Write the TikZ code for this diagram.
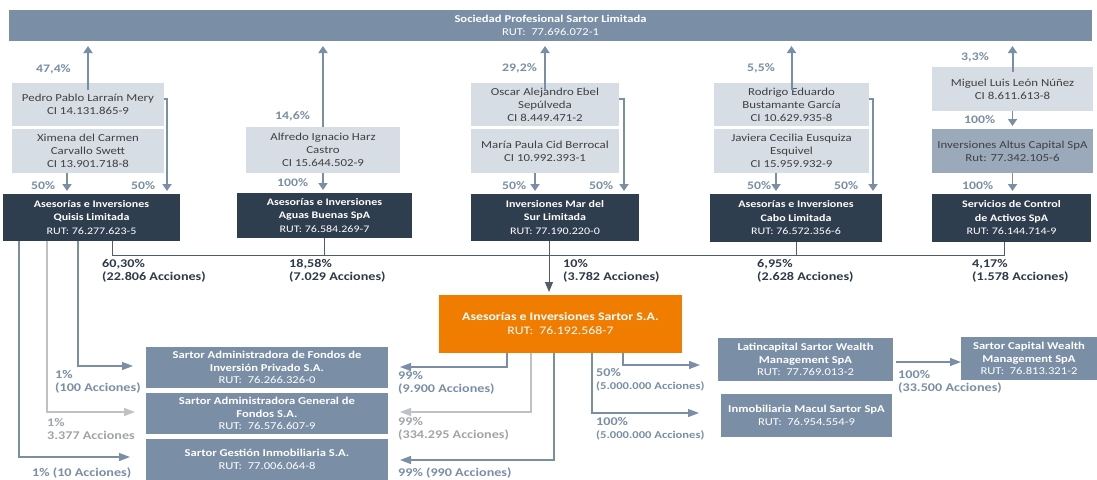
\documentclass[tikz,border=0pt]{standalone}
\usepackage{fontspec}
\setmainfont{Carlito}[FakeStretch=1.2]
\usetikzlibrary{arrows.meta,calc}
\definecolor{steel}{RGB}{122,143,166}
\definecolor{lightbox}{RGB}{214,221,228}
\definecolor{darkbox}{RGB}{47,62,78}
\definecolor{midbox}{RGB}{154,170,187}
\definecolor{orangebox}{RGB}{240,125,0}
\definecolor{lgray}{RGB}{190,194,198}
\definecolor{txtdark}{RGB}{64,64,64}
\definecolor{lbldark}{RGB}{45,58,72}
\definecolor{busc}{RGB}{80,92,106}
\newcommand\bx[7]{\node[#2, minimum width={(#5-#3)*1pt}, minimum height={(#6-#4)*1pt}] (#1) at ({(#3+#5)/2},{(#4+#6)/2}) {#7};}
\tikzset{
  basebx/.style={inner sep=0pt, outer sep=0pt, align=center},
  lightbx/.style={basebx, fill=lightbox, text=txtdark, font=\fontsize{10.7}{13}\selectfont},
  midbx/.style={basebx, fill=midbox, text=txtdark, font=\fontsize{10.7}{13}\selectfont},
  darkbx/.style={basebx, fill=darkbox, text=white, font=\fontsize{10}{13.5}\selectfont, execute at begin node={\rule{0pt}{15pt}}},
  steelbx/.style={basebx, fill=steel, text=white, font=\fontsize{10.5}{12.5}\selectfont},
  orangebx/.style={basebx, fill=orangebox, text=white, font=\fontsize{11.5}{14}\selectfont},
  upar/.style={draw=steel, line width=2pt, -{Triangle[width=9pt,length=7pt]}},
  dnar/.style={draw=steel, line width=1.8pt, -{Triangle[width=9pt,length=7pt]}},
  stline/.style={draw=steel, line width=1.2pt, -{Triangle[width=8pt,length=11pt]}},
  grline/.style={draw=lgray, line width=1.2pt, -{Triangle[width=8pt,length=11pt]}},
  bus/.style={draw=busc, line width=0.9pt},
  busar/.style={draw=busc, line width=1pt, -{Triangle[width=8pt,length=10pt]}},
  pct/.style={inner sep=0pt, text=steel, font=\fontsize{11.5}{13}\selectfont\bfseries},
  pctg/.style={inner sep=0pt, text=lgray!85!black, font=\fontsize{11.8}{13.5}\selectfont\bfseries, align=left},
  lbl/.style={inner sep=0pt, text=lbldark, font=\fontsize{11.8}{13.5}\selectfont\bfseries, align=left},
  lbls/.style={inner sep=0pt, text=steel, font=\fontsize{11.8}{13.5}\selectfont\bfseries, align=left},
}
\begin{document}
\begin{tikzpicture}[x=1pt,y=-1pt]
\useasboundingbox (0,0) rectangle (1097,479);
\fill[white] (0,0) rectangle (1097,479);
% top bar
\bx{top}{steelbx}{9}{10}{1092}{41}{\textbf{Sociedad Profesional Sartor Limitada}\\RUT:~ 77.696.072-1}
% persons
\bx{pedro}{lightbx}{12}{83}{164}{126}{Pedro Pablo Larraín Mery\\CI 14.131.865-9}
\bx{ximena}{lightbx}{12}{129}{164}{173}{Ximena del Carmen\\Carvallo Swett\\CI 13.901.718-8}
\bx{alfredo}{lightbx}{246}{127}{400}{173}{Alfredo Ignacio Harz\\Castro\\CI 15.644.502-9}
\bx{oscar}{lightbx}{471}{83}{619}{126}{Oscar Alejandro Ebel\\Sepúlveda\\CI 8.449.471-2}
\bx{maria}{lightbx}{471}{129}{619}{173}{María Paula Cid Berrocal\\CI 10.992.393-1}
\bx{rodrigo}{lightbx}{714}{83}{869}{126}{Rodrigo Eduardo\\Bustamante García\\CI 10.629.935-8}
\bx{javiera}{lightbx}{714}{129}{869}{173}{Javiera Cecilia Eusquiza\\Esquivel\\CI 15.959.932-9}
\bx{miguel}{lightbx}{932}{67}{1093}{111}{Miguel Luis León Núñez\\CI 8.611.613-8}
\bx{altus}{midbx}{932}{129}{1093}{173}{Inversiones Altus Capital SpA\\Rut: 77.342.105-6}
% holding companies
\bx{quisis}{darkbx}{3}{194}{180}{241}{\textbf{Asesorías e Inversiones}\\\textbf{Quisis Limitada}\\RUT: 76.277.623-5}
\bx{aguas}{darkbx}{237}{193}{412}{238}{\textbf{Asesorías e Inversiones}\\\textbf{Aguas Buenas SpA}\\RUT: 76.584.269-7}
\bx{mar}{darkbx}{471}{194}{639}{241}{\textbf{Inversiones Mar del}\\\textbf{Sur Limitada}\\RUT: 77.190.220-0}
\bx{cabo}{darkbx}{710}{194}{882}{242}{\textbf{Asesorías e Inversiones}\\\textbf{Cabo Limitada}\\RUT: 76.572.356-6}
\bx{servicios}{darkbx}{932}{194}{1091}{242}{\textbf{Servicios de Control}\\\textbf{de Activos SpA}\\RUT: 76.144.714-9}
% main company
\bx{sartor}{orangebx}{439}{295}{682}{353}{\textbf{Asesorías e Inversiones Sartor S.A.}\\RUT:~ 76.192.568-7}
% subsidiaries
\bx{fip}{steelbx}{146}{347}{388}{388}{\textbf{Sartor Administradora de Fondos de}\\\textbf{Inversión Privado S.A.}\\RUT:~ 76.266.326-0}
\bx{agf}{steelbx}{146}{393}{388}{434}{\textbf{Sartor Administradora General de}\\\textbf{Fondos S.A.}\\RUT:~ 76.576.607-9}
\bx{gestion}{steelbx}{146}{439}{388}{480}{\textbf{Sartor Gestión Inmobiliaria S.A.}\\RUT:~ 77.006.064-8}
\bx{latin}{steelbx}{718}{338}{893}{381}{\textbf{Latincapital Sartor Wealth}\\\textbf{Management SpA}\\RUT:~ 77.769.013-2}
\bx{macul}{steelbx}{721}{394}{892}{437}{\textbf{Inmobiliaria Macul Sartor SpA}\\RUT:~ 76.954.554-9}
\bx{capital}{steelbx}{961}{337}{1097}{380}{\textbf{Sartor Capital Wealth}\\\textbf{Management SpA}\\RUT:~ 76.813.321-2}

% ---- arrows up to the top bar
\draw[upar] ([yshift=-7pt]pedro.north) -- ([yshift=-5pt]pedro.north |- top.south);
\draw[upar] (alfredo.north) -- ([yshift=-5pt]alfredo.north |- top.south);
\draw[upar] ([yshift=-7pt]oscar.north) -- ([yshift=-5pt]oscar.north |- top.south);
\draw[upar] ([yshift=-7pt]rodrigo.north) -- ([yshift=-5pt]rodrigo.north |- top.south);
\draw[upar] ([yshift=-5pt]miguel.north) -- ([yshift=-5pt]miguel.north |- top.south);
\node[pct, anchor=east] (p1) at (71,69) {47,4\%};
\node[pct, anchor=east] (p2) at (310,116) {14,6\%};
\node[pct, anchor=east] (p3) at (537,68) {29,2\%};
\node[pct, anchor=east] (p4) at (775,68) {5,5\%};
\node[pct, anchor=east] (p5) at (989,57) {3,3\%};

% ---- arrows down to holding companies
\coordinate (cx1) at (67,0);
\coordinate (cx2) at (167,0);
\coordinate (cx3) at (535,0);
\coordinate (cx4) at (624,0);
\coordinate (cx5) at (776,0);
\coordinate (cx6) at (873,0);
\draw[dnar] (ximena.south -| cx1) -- ([yshift=3pt]quisis.north -| cx1);
\draw[dnar] (pedro.east |- 0,99) -| ([yshift=3pt]quisis.north -| cx2);
\draw[dnar] (alfredo.south) -- ([yshift=3pt]alfredo.south |- aguas.north);
\draw[dnar] (maria.south -| cx3) -- ([yshift=3pt]mar.north -| cx3);
\draw[dnar] (oscar.east |- 0,99) -| ([yshift=3pt]mar.north -| cx4);
\draw[dnar] (javiera.south -| cx5) -- ([yshift=3pt]cabo.north -| cx5);
\draw[dnar] (rodrigo.east |- 0,99) -| ([yshift=3pt]cabo.north -| cx6);
\draw[dnar] (miguel.south) -- ([yshift=3pt]altus.north);
\draw[dnar] (altus.south) -- ([yshift=3pt]altus.south |- servicios.north);
\node[pct, anchor=west] (d1) at (31,186) {50\%};
\node[pct, anchor=west] (d2) at (131,186) {50\%};
\node[pct, anchor=west] (d3) at (277,183) {100\%};
\node[pct, anchor=west] (d4) at (502,186) {50\%};
\node[pct, anchor=west] (d5) at (589,186) {50\%};
\node[pct, anchor=west] (d6) at (747,186) {50\%};
\node[pct, anchor=west] (d7) at (834,186) {50\%};
\node[pct, anchor=west] (d8) at (964,120) {100\%};
\node[pct, anchor=west] (d9) at (962,186) {100\%};

% ---- bus to Sartor
\coordinate (bq) at (112,255);
\coordinate (bs) at (1004,255);
\coordinate (bm) at (549,255);
\draw[bus] (quisis.south -| bq) -- (bq) -- (bs) -- (servicios.south -| bs);
\draw[bus] (aguas.south -| 324,0) -- (324,255);
\draw[bus] (mar.south -| bm) -- (bm);
\draw[bus] (cabo.south -| 796,0) -- (796,255);
\draw[busar] ([yshift=7pt]bm) -- ([yshift=3pt]sartor.north -| bm);
\node[lbl, anchor=north west] (l1) at (102,259) {60,30\%\\(22.806 Acciones)};
\node[lbl, anchor=north west] (l2) at (289,259) {18,58\%\\(7.029 Acciones)};
\node[lbl, anchor=north west] (l3) at (563,259) {10\%\\(3.782 Acciones)};
\node[lbl, anchor=north west] (l4) at (757,259) {6,95\%\\(2.628 Acciones)};
\node[lbl, anchor=north west] (l5) at (972,259) {4,17\%\\(1.578 Acciones)};

% ---- Quisis to subsidiaries
\coordinate (q1) at (78,0);
\coordinate (q2) at (47,0);
\coordinate (q3) at (19,0);
\draw[stline] (quisis.south -| q1) |- ([xshift=-13pt]fip.west |- 0,366);
\draw[grline] (quisis.south -| q2) |- ([xshift=-11pt]agf.west |- 0,412);
\draw[stline] (quisis.south -| q3) |- ([xshift=-16pt]gestion.west |- 0,457);
\node[lbls, anchor=north west] (s1) at (55,370) {1\%\\(100 Acciones)};
\node[pctg, anchor=north west] (s2) at (47,418) {1\%\\3.377 Acciones};
\node[lbls, anchor=west] (s3) at (32,473) {1\% (10 Acciones)};

% ---- Sartor to subsidiaries
\coordinate (r1) at (507,0);
\coordinate (r2) at (531,0);
\coordinate (r3) at (554,0);
\coordinate (r4) at (592,0);
\coordinate (r5) at (623,0);
\draw[stline] (sartor.south -| r1) |- ([xshift=12pt]fip.east |- 0,367);
\draw[grline] (sartor.south -| r2) |- ([xshift=12pt]agf.east |- 0,412);
\draw[stline] (sartor.south -| r3) |- ([xshift=12pt]gestion.east |- 0,460);
\draw[stline] (sartor.south -| r4) |- ([xshift=-22pt]macul.west |- 0,413);
\draw[stline] (sartor.south -| r5) |- ([xshift=-18pt]latin.west |- 0,365);
\draw[stline] ([xshift=3pt]latin.east |- 0,362) -- (capital.west |- 0,362);
\node[lbls, anchor=north west] (t1) at (398,371) {99\%\\(9.900 Acciones)};
\node[pctg, anchor=north west] (t2) at (398,417) {99\%\\(334.295 Acciones)};
\node[lbls, anchor=west] (t3) at (398,473) {99\% (990 Acciones)};
\node[lbls, anchor=north west] (t4) at (596,368) {50\%\\{\fontsize{10.5}{13}\selectfont(5.000.000 Acciones)}};
\node[lbls, anchor=north west] (t5) at (596,417) {100\%\\{\fontsize{10.5}{13}\selectfont(5.000.000 Acciones)}};
\node[lbls, anchor=north west] (t6) at (898,370) {100\%\\(33.500 Acciones)};
\end{tikzpicture}
\end{document}
